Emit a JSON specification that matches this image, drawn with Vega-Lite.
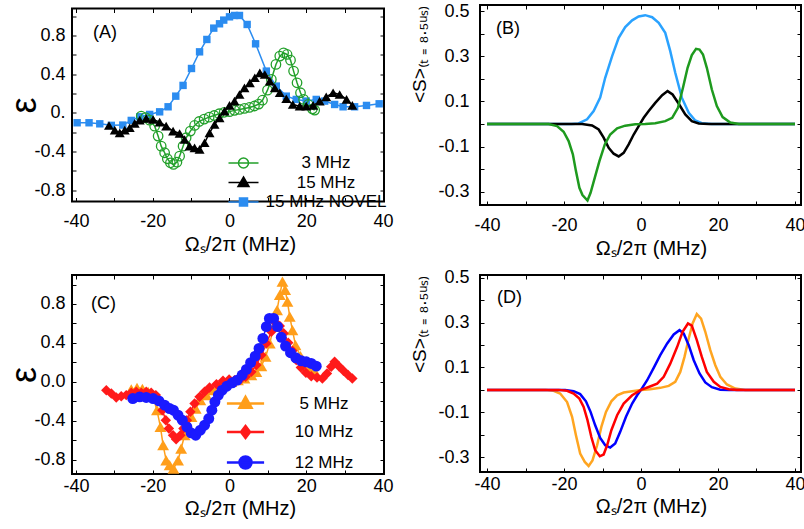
{
"$schema": "https://vega.github.io/schema/vega-lite/v6.json",
"background": "white",
"padding": {"left": 5, "top": 1, "right": 0, "bottom": 0},
"datasets": {
"A": [
{"s":"15 MHz NOVEL","x":-39.7,"y":-0.103},{"s":"15 MHz NOVEL","x":-36.6,"y":-0.103},{"s":"15 MHz NOVEL","x":-33.8,"y":-0.114},{"s":"15 MHz NOVEL","x":-30.8,"y":-0.13},{"s":"15 MHz NOVEL","x":-27.8,"y":-0.127},{"s":"15 MHz NOVEL","x":-25.6,"y":-0.079},{"s":"15 MHz NOVEL","x":-23.4,"y":-0.041},{"s":"15 MHz NOVEL","x":-20.8,"y":-0.017},{"s":"15 MHz NOVEL","x":-18.2,"y":0.01},{"s":"15 MHz NOVEL","x":-16,"y":0.062},{"s":"15 MHz NOVEL","x":-14,"y":0.172},{"s":"15 MHz NOVEL","x":-12.1,"y":0.283},{"s":"15 MHz NOVEL","x":-9.9,"y":0.458},{"s":"15 MHz NOVEL","x":-7.8,"y":0.63},{"s":"15 MHz NOVEL","x":-5.9,"y":0.758},{"s":"15 MHz NOVEL","x":-4.1,"y":0.875},{"s":"15 MHz NOVEL","x":-2.6,"y":0.92},{"s":"15 MHz NOVEL","x":-1.5,"y":0.958},{"s":"15 MHz NOVEL","x":0,"y":0.992},{"s":"15 MHz NOVEL","x":1.3,"y":1.006},{"s":"15 MHz NOVEL","x":2.6,"y":1.006},{"s":"15 MHz NOVEL","x":4.6,"y":0.913},{"s":"15 MHz NOVEL","x":6.8,"y":0.713},{"s":"15 MHz NOVEL","x":9.6,"y":0.431},{"s":"15 MHz NOVEL","x":12.2,"y":0.276},{"s":"15 MHz NOVEL","x":14.8,"y":0.172},{"s":"15 MHz NOVEL","x":17.4,"y":0.138},{"s":"15 MHz NOVEL","x":20,"y":0.121},{"s":"15 MHz NOVEL","x":22.6,"y":0.138},{"s":"15 MHz NOVEL","x":24.8,"y":0.121},{"s":"15 MHz NOVEL","x":27.4,"y":0.086},{"s":"15 MHz NOVEL","x":29.6,"y":0.062},{"s":"15 MHz NOVEL","x":32.6,"y":0.062},{"s":"15 MHz NOVEL","x":35.7,"y":0.076},{"s":"15 MHz NOVEL","x":39,"y":0.093},
{"s":"3 MHz","x":-23,"y":-0.034},{"s":"3 MHz","x":-21.9,"y":-0.05},{"s":"3 MHz","x":-20.8,"y":-0.076},{"s":"3 MHz","x":-19.5,"y":-0.138},{"s":"3 MHz","x":-18.6,"y":-0.241},{"s":"3 MHz","x":-17.8,"y":-0.345},{"s":"3 MHz","x":-16.9,"y":-0.413},{"s":"3 MHz","x":-16.2,"y":-0.475},{"s":"3 MHz","x":-15.4,"y":-0.517},{"s":"3 MHz","x":-14.6,"y":-0.534},{"s":"3 MHz","x":-13.7,"y":-0.51},{"s":"3 MHz","x":-13,"y":-0.448},{"s":"3 MHz","x":-12.1,"y":-0.345},{"s":"3 MHz","x":-11.3,"y":-0.258},{"s":"3 MHz","x":-10.2,"y":-0.189},{"s":"3 MHz","x":-9.1,"y":-0.131},{"s":"3 MHz","x":-7.9,"y":-0.09},{"s":"3 MHz","x":-6.6,"y":-0.065},{"s":"3 MHz","x":-5.3,"y":-0.045},{"s":"3 MHz","x":-4,"y":-0.028},{"s":"3 MHz","x":-2.7,"y":-0.01},{"s":"3 MHz","x":-1.4,"y":0.005},{"s":"3 MHz","x":0,"y":0.012},{"s":"3 MHz","x":1.3,"y":0.025},{"s":"3 MHz","x":2.6,"y":0.035},{"s":"3 MHz","x":3.9,"y":0.045},{"s":"3 MHz","x":5.2,"y":0.055},{"s":"3 MHz","x":6.5,"y":0.07},{"s":"3 MHz","x":7.6,"y":0.09},{"s":"3 MHz","x":8.6,"y":0.13},{"s":"3 MHz","x":9.9,"y":0.234},{"s":"3 MHz","x":10.9,"y":0.345},{"s":"3 MHz","x":12.1,"y":0.5},{"s":"3 MHz","x":13.1,"y":0.586},{"s":"3 MHz","x":14.1,"y":0.62},{"s":"3 MHz","x":15,"y":0.603},{"s":"3 MHz","x":15.9,"y":0.544},{"s":"3 MHz","x":16.7,"y":0.431},{"s":"3 MHz","x":17.6,"y":0.31},{"s":"3 MHz","x":18.5,"y":0.207},{"s":"3 MHz","x":19.3,"y":0.138},{"s":"3 MHz","x":20.5,"y":0.086},{"s":"3 MHz","x":21.6,"y":0.041},{"s":"3 MHz","x":22.2,"y":0.028},
{"s":"15 MHz","x":-31.4,"y":-0.131},{"s":"15 MHz","x":-29.9,"y":-0.179},{"s":"15 MHz","x":-28.6,"y":-0.207},{"s":"15 MHz","x":-27.3,"y":-0.179},{"s":"15 MHz","x":-26,"y":-0.155},{"s":"15 MHz","x":-24.7,"y":-0.11},{"s":"15 MHz","x":-23.4,"y":-0.076},{"s":"15 MHz","x":-21.7,"y":-0.059},{"s":"15 MHz","x":-19.9,"y":-0.069},{"s":"15 MHz","x":-18.2,"y":-0.096},{"s":"15 MHz","x":-16.5,"y":-0.138},{"s":"15 MHz","x":-14.7,"y":-0.189},{"s":"15 MHz","x":-13,"y":-0.214},{"s":"15 MHz","x":-11.7,"y":-0.276},{"s":"15 MHz","x":-10.4,"y":-0.345},{"s":"15 MHz","x":-9.1,"y":-0.362},{"s":"15 MHz","x":-7.8,"y":-0.379},{"s":"15 MHz","x":-6.5,"y":-0.31},{"s":"15 MHz","x":-5.2,"y":-0.207},{"s":"15 MHz","x":-3.9,"y":-0.121},{"s":"15 MHz","x":-2.6,"y":-0.052},{"s":"15 MHz","x":-1.3,"y":0.017},{"s":"15 MHz","x":0,"y":0.076},{"s":"15 MHz","x":1.3,"y":0.121},{"s":"15 MHz","x":2.6,"y":0.189},{"s":"15 MHz","x":3.9,"y":0.258},{"s":"15 MHz","x":5.3,"y":0.31},{"s":"15 MHz","x":6.6,"y":0.362},{"s":"15 MHz","x":7.9,"y":0.413},{"s":"15 MHz","x":9.2,"y":0.396},{"s":"15 MHz","x":10.5,"y":0.327},{"s":"15 MHz","x":11.8,"y":0.258},{"s":"15 MHz","x":13.1,"y":0.207},{"s":"15 MHz","x":14.8,"y":0.145},{"s":"15 MHz","x":16.5,"y":0.086},{"s":"15 MHz","x":18.3,"y":0.069},{"s":"15 MHz","x":20,"y":0.069},{"s":"15 MHz","x":21.8,"y":0.076},{"s":"15 MHz","x":23.5,"y":0.121},{"s":"15 MHz","x":25.2,"y":0.165},{"s":"15 MHz","x":27,"y":0.207},{"s":"15 MHz","x":28.7,"y":0.189},{"s":"15 MHz","x":30.5,"y":0.138},{"s":"15 MHz","x":32,"y":0.076}
],
"B": [
{"s":"15 MHz NOVEL","x":-40,"y":0},{"s":"15 MHz NOVEL","x":-18,"y":0},{"s":"15 MHz NOVEL","x":-16.2,"y":0.003},{"s":"15 MHz NOVEL","x":-14,"y":0.021},{"s":"15 MHz NOVEL","x":-12.3,"y":0.058},{"s":"15 MHz NOVEL","x":-10.6,"y":0.117},{"s":"15 MHz NOVEL","x":-9.3,"y":0.205},{"s":"15 MHz NOVEL","x":-7.5,"y":0.301},{"s":"15 MHz NOVEL","x":-5.8,"y":0.382},{"s":"15 MHz NOVEL","x":-4.1,"y":0.429},{"s":"15 MHz NOVEL","x":-2.3,"y":0.459},{"s":"15 MHz NOVEL","x":-0.6,"y":0.476},{"s":"15 MHz NOVEL","x":1.1,"y":0.482},{"s":"15 MHz NOVEL","x":2.9,"y":0.473},{"s":"15 MHz NOVEL","x":4.6,"y":0.448},{"s":"15 MHz NOVEL","x":6.3,"y":0.404},{"s":"15 MHz NOVEL","x":7.6,"y":0.323},{"s":"15 MHz NOVEL","x":8.9,"y":0.227},{"s":"15 MHz NOVEL","x":10.6,"y":0.117},{"s":"15 MHz NOVEL","x":12.4,"y":0.05},{"s":"15 MHz NOVEL","x":14.1,"y":0.016},{"s":"15 MHz NOVEL","x":15.8,"y":0.004},{"s":"15 MHz NOVEL","x":18.4,"y":0},{"s":"15 MHz NOVEL","x":40,"y":0},
{"s":"15 MHz","x":-40,"y":0},{"s":"15 MHz","x":-15.3,"y":0},{"s":"15 MHz","x":-12.7,"y":-0.006},{"s":"15 MHz","x":-11,"y":-0.024},{"s":"15 MHz","x":-9.7,"y":-0.06},{"s":"15 MHz","x":-8.4,"y":-0.105},{"s":"15 MHz","x":-7.1,"y":-0.131},{"s":"15 MHz","x":-5.8,"y":-0.143},{"s":"15 MHz","x":-4.5,"y":-0.127},{"s":"15 MHz","x":-3.2,"y":-0.09},{"s":"15 MHz","x":-1.9,"y":-0.046},{"s":"15 MHz","x":-0.6,"y":-0.009},{"s":"15 MHz","x":0.7,"y":0.028},{"s":"15 MHz","x":2,"y":0.058},{"s":"15 MHz","x":3.7,"y":0.094},{"s":"15 MHz","x":5.5,"y":0.128},{"s":"15 MHz","x":6.9,"y":0.146},{"s":"15 MHz","x":8.2,"y":0.131},{"s":"15 MHz","x":9.8,"y":0.09},{"s":"15 MHz","x":11.5,"y":0.043},{"s":"15 MHz","x":13.2,"y":0.013},{"s":"15 MHz","x":15,"y":0.003},{"s":"15 MHz","x":17.6,"y":0},{"s":"15 MHz","x":40,"y":0},
{"s":"3 MHz","x":-40,"y":0},{"s":"3 MHz","x":-24,"y":0},{"s":"3 MHz","x":-21.8,"y":-0.009},{"s":"3 MHz","x":-20.1,"y":-0.034},{"s":"3 MHz","x":-18.8,"y":-0.075},{"s":"3 MHz","x":-17.7,"y":-0.134},{"s":"3 MHz","x":-16.9,"y":-0.208},{"s":"3 MHz","x":-16,"y":-0.282},{"s":"3 MHz","x":-15.2,"y":-0.314},{"s":"3 MHz","x":-13.9,"y":-0.338},{"s":"3 MHz","x":-13.1,"y":-0.304},{"s":"3 MHz","x":-12,"y":-0.237},{"s":"3 MHz","x":-10.8,"y":-0.164},{"s":"3 MHz","x":-9.4,"y":-0.09},{"s":"3 MHz","x":-8,"y":-0.046},{"s":"3 MHz","x":-6.2,"y":-0.019},{"s":"3 MHz","x":-4.1,"y":-0.007},{"s":"3 MHz","x":-1.5,"y":-0.001},{"s":"3 MHz","x":1.1,"y":0},{"s":"3 MHz","x":3.7,"y":0.004},{"s":"3 MHz","x":6.3,"y":0.013},{"s":"3 MHz","x":8.1,"y":0.028},{"s":"3 MHz","x":9.6,"y":0.072},{"s":"3 MHz","x":10.9,"y":0.161},{"s":"3 MHz","x":12.1,"y":0.249},{"s":"3 MHz","x":13.2,"y":0.305},{"s":"3 MHz","x":14.3,"y":0.333},{"s":"3 MHz","x":15.2,"y":0.33},{"s":"3 MHz","x":16.1,"y":0.308},{"s":"3 MHz","x":17.1,"y":0.249},{"s":"3 MHz","x":18.4,"y":0.153},{"s":"3 MHz","x":19.7,"y":0.08},{"s":"3 MHz","x":21.2,"y":0.031},{"s":"3 MHz","x":23.2,"y":0.007},{"s":"3 MHz","x":25.4,"y":0},{"s":"3 MHz","x":40,"y":0}
],
"C": [
{"s":"5 MHz","x":-25.6,"y":-0.079},{"s":"5 MHz","x":-24.1,"y":-0.062},{"s":"5 MHz","x":-22.7,"y":-0.072},{"s":"5 MHz","x":-21.2,"y":-0.103},{"s":"5 MHz","x":-19.9,"y":-0.155},{"s":"5 MHz","x":-18.9,"y":-0.292},{"s":"5 MHz","x":-18,"y":-0.464},{"s":"5 MHz","x":-17.3,"y":-0.652},{"s":"5 MHz","x":-16.5,"y":-0.807},{"s":"5 MHz","x":-15.6,"y":-0.858},{"s":"5 MHz","x":-14.6,"y":-0.893},{"s":"5 MHz","x":-13.4,"y":-0.807},{"s":"5 MHz","x":-12.6,"y":-0.687},{"s":"5 MHz","x":-11.7,"y":-0.549},{"s":"5 MHz","x":-10.8,"y":-0.446},{"s":"5 MHz","x":-9.9,"y":-0.361},{"s":"5 MHz","x":-8.8,"y":-0.275},{"s":"5 MHz","x":-7.6,"y":-0.189},{"s":"5 MHz","x":-6,"y":-0.137},{"s":"5 MHz","x":-4.3,"y":-0.086},{"s":"5 MHz","x":-2.6,"y":-0.045},{"s":"5 MHz","x":-1.3,"y":-0.017},{"s":"5 MHz","x":0.5,"y":0},{"s":"5 MHz","x":2.2,"y":0.017},{"s":"5 MHz","x":3.9,"y":0.034},{"s":"5 MHz","x":5.7,"y":0.069},{"s":"5 MHz","x":7,"y":0.103},{"s":"5 MHz","x":8.3,"y":0.161},{"s":"5 MHz","x":9.4,"y":0.258},{"s":"5 MHz","x":10.5,"y":0.395},{"s":"5 MHz","x":11.5,"y":0.567},{"s":"5 MHz","x":12.4,"y":0.738},{"s":"5 MHz","x":13.1,"y":0.893},{"s":"5 MHz","x":13.8,"y":1.03},{"s":"5 MHz","x":14.5,"y":0.944},{"s":"5 MHz","x":15.1,"y":0.824},{"s":"5 MHz","x":15.7,"y":0.67},{"s":"5 MHz","x":16.4,"y":0.532},{"s":"5 MHz","x":17.2,"y":0.378},{"s":"5 MHz","x":18.5,"y":0.264},{"s":"5 MHz","x":19.6,"y":0.189},{"s":"5 MHz","x":20.9,"y":0.127},{"s":"5 MHz","x":22.5,"y":0.086},
{"s":"10 MHz","x":-32.1,"y":-0.086},{"s":"10 MHz","x":-30.8,"y":-0.12},{"s":"10 MHz","x":-29.5,"y":-0.161},{"s":"10 MHz","x":-28.2,"y":-0.148},{"s":"10 MHz","x":-26.9,"y":-0.137},{"s":"10 MHz","x":-25.6,"y":-0.113},{"s":"10 MHz","x":-24.3,"y":-0.103},{"s":"10 MHz","x":-23,"y":-0.113},{"s":"10 MHz","x":-21.7,"y":-0.103},{"s":"10 MHz","x":-20.4,"y":-0.113},{"s":"10 MHz","x":-19.2,"y":-0.137},{"s":"10 MHz","x":-18.4,"y":-0.196},{"s":"10 MHz","x":-17.5,"y":-0.292},{"s":"10 MHz","x":-16.6,"y":-0.395},{"s":"10 MHz","x":-15.8,"y":-0.481},{"s":"10 MHz","x":-14.7,"y":-0.549},{"s":"10 MHz","x":-13.9,"y":-0.591},{"s":"10 MHz","x":-12.8,"y":-0.549},{"s":"10 MHz","x":-12,"y":-0.481},{"s":"10 MHz","x":-11.1,"y":-0.395},{"s":"10 MHz","x":-10.2,"y":-0.309},{"s":"10 MHz","x":-9.1,"y":-0.223},{"s":"10 MHz","x":-7.8,"y":-0.155},{"s":"10 MHz","x":-6.5,"y":-0.103},{"s":"10 MHz","x":-5.2,"y":-0.058},{"s":"10 MHz","x":-3.4,"y":-0.024},{"s":"10 MHz","x":-1.7,"y":0.01},{"s":"10 MHz","x":-0.1,"y":0.024},{"s":"10 MHz","x":1.3,"y":0.017},{"s":"10 MHz","x":2.8,"y":0.024},{"s":"10 MHz","x":4.2,"y":0.052},{"s":"10 MHz","x":5.7,"y":0.103},{"s":"10 MHz","x":7,"y":0.172},{"s":"10 MHz","x":8.3,"y":0.275},{"s":"10 MHz","x":9.6,"y":0.395},{"s":"10 MHz","x":10.9,"y":0.515},{"s":"10 MHz","x":12,"y":0.608},{"s":"10 MHz","x":13.1,"y":0.573},{"s":"10 MHz","x":14.1,"y":0.498},{"s":"10 MHz","x":15.3,"y":0.402},{"s":"10 MHz","x":16.4,"y":0.319},{"s":"10 MHz","x":17.4,"y":0.223},{"s":"10 MHz","x":18.6,"y":0.148},{"s":"10 MHz","x":19.9,"y":0.093},{"s":"10 MHz","x":21.3,"y":0.058},{"s":"10 MHz","x":22.8,"y":0.045},{"s":"10 MHz","x":24.2,"y":0.034},{"s":"10 MHz","x":25.4,"y":0.086},{"s":"10 MHz","x":26.5,"y":0.155},{"s":"10 MHz","x":27.4,"y":0.206},{"s":"10 MHz","x":28.5,"y":0.161},{"s":"10 MHz","x":29.7,"y":0.113},{"s":"10 MHz","x":30.9,"y":0.069},{"s":"10 MHz","x":32,"y":0.034},
{"s":"12 MHz","x":-25.2,"y":-0.172},{"s":"12 MHz","x":-23.4,"y":-0.155},{"s":"12 MHz","x":-21.7,"y":-0.161},{"s":"12 MHz","x":-19.9,"y":-0.172},{"s":"12 MHz","x":-18.4,"y":-0.196},{"s":"12 MHz","x":-16.9,"y":-0.24},{"s":"12 MHz","x":-15.6,"y":-0.275},{"s":"12 MHz","x":-14.6,"y":-0.292},{"s":"12 MHz","x":-13.4,"y":-0.343},{"s":"12 MHz","x":-12.3,"y":-0.395},{"s":"12 MHz","x":-11.1,"y":-0.464},{"s":"12 MHz","x":-10,"y":-0.525},{"s":"12 MHz","x":-8.8,"y":-0.549},{"s":"12 MHz","x":-7.6,"y":-0.498},{"s":"12 MHz","x":-6.5,"y":-0.446},{"s":"12 MHz","x":-5.4,"y":-0.378},{"s":"12 MHz","x":-4.6,"y":-0.292},{"s":"12 MHz","x":-3.8,"y":-0.206},{"s":"12 MHz","x":-2.9,"y":-0.137},{"s":"12 MHz","x":-1.9,"y":-0.086},{"s":"12 MHz","x":-0.7,"y":-0.045},{"s":"12 MHz","x":0.7,"y":-0.01},{"s":"12 MHz","x":2,"y":0.017},{"s":"12 MHz","x":3.3,"y":0.069},{"s":"12 MHz","x":4.4,"y":0.127},{"s":"12 MHz","x":5.5,"y":0.196},{"s":"12 MHz","x":6.7,"y":0.264},{"s":"12 MHz","x":7.7,"y":0.343},{"s":"12 MHz","x":8.7,"y":0.446},{"s":"12 MHz","x":9.6,"y":0.567},{"s":"12 MHz","x":10.4,"y":0.652},{"s":"12 MHz","x":11.5,"y":0.652},{"s":"12 MHz","x":12.5,"y":0.567},{"s":"12 MHz","x":13.5,"y":0.457},{"s":"12 MHz","x":14.6,"y":0.367},{"s":"12 MHz","x":15.9,"y":0.299},{"s":"12 MHz","x":17.3,"y":0.247},{"s":"12 MHz","x":18.7,"y":0.216},{"s":"12 MHz","x":20,"y":0.206},{"s":"12 MHz","x":21.3,"y":0.189},{"s":"12 MHz","x":22.6,"y":0.161}
],
"D": [
{"s":"5 MHz","x":-40,"y":0},{"s":"5 MHz","x":-24.8,"y":0},{"s":"5 MHz","x":-22.7,"y":-0.004},{"s":"5 MHz","x":-21,"y":-0.016},{"s":"5 MHz","x":-19.2,"y":-0.054},{"s":"5 MHz","x":-17.9,"y":-0.12},{"s":"5 MHz","x":-16.9,"y":-0.202},{"s":"5 MHz","x":-15.8,"y":-0.284},{"s":"5 MHz","x":-14.6,"y":-0.321},{"s":"5 MHz","x":-13.6,"y":-0.339},{"s":"5 MHz","x":-12.6,"y":-0.314},{"s":"5 MHz","x":-11.4,"y":-0.247},{"s":"5 MHz","x":-10.3,"y":-0.165},{"s":"5 MHz","x":-9.1,"y":-0.098},{"s":"5 MHz","x":-7.7,"y":-0.051},{"s":"5 MHz","x":-6.2,"y":-0.024},{"s":"5 MHz","x":-4.5,"y":-0.012},{"s":"5 MHz","x":-2.3,"y":-0.006},{"s":"5 MHz","x":0,"y":0},{"s":"5 MHz","x":2.4,"y":0.003},{"s":"5 MHz","x":5,"y":0.009},{"s":"5 MHz","x":7.2,"y":0.018},{"s":"5 MHz","x":8.9,"y":0.036},{"s":"5 MHz","x":10.2,"y":0.08},{"s":"5 MHz","x":11.3,"y":0.147},{"s":"5 MHz","x":12.4,"y":0.229},{"s":"5 MHz","x":13.4,"y":0.296},{"s":"5 MHz","x":14.5,"y":0.338},{"s":"5 MHz","x":15.6,"y":0.318},{"s":"5 MHz","x":16.7,"y":0.259},{"s":"5 MHz","x":18,"y":0.177},{"s":"5 MHz","x":19.3,"y":0.11},{"s":"5 MHz","x":20.6,"y":0.058},{"s":"5 MHz","x":22.3,"y":0.024},{"s":"5 MHz","x":24.5,"y":0.006},{"s":"5 MHz","x":27.1,"y":0},{"s":"5 MHz","x":40,"y":0},
{"s":"12 MHz","x":-40,"y":0},{"s":"12 MHz","x":-19.7,"y":0},{"s":"12 MHz","x":-17.5,"y":-0.006},{"s":"12 MHz","x":-15.8,"y":-0.019},{"s":"12 MHz","x":-14.3,"y":-0.051},{"s":"12 MHz","x":-13.1,"y":-0.098},{"s":"12 MHz","x":-11.9,"y":-0.158},{"s":"12 MHz","x":-10.6,"y":-0.214},{"s":"12 MHz","x":-9.3,"y":-0.247},{"s":"12 MHz","x":-8,"y":-0.257},{"s":"12 MHz","x":-6.7,"y":-0.239},{"s":"12 MHz","x":-5.4,"y":-0.187},{"s":"12 MHz","x":-3.9,"y":-0.12},{"s":"12 MHz","x":-2.3,"y":-0.061},{"s":"12 MHz","x":-1,"y":-0.024},{"s":"12 MHz","x":0,"y":0},{"s":"12 MHz","x":1.6,"y":0.043},{"s":"12 MHz","x":3.3,"y":0.098},{"s":"12 MHz","x":5,"y":0.155},{"s":"12 MHz","x":6.8,"y":0.207},{"s":"12 MHz","x":8.5,"y":0.247},{"s":"12 MHz","x":10,"y":0.266},{"s":"12 MHz","x":11.1,"y":0.251},{"s":"12 MHz","x":12.4,"y":0.199},{"s":"12 MHz","x":13.7,"y":0.132},{"s":"12 MHz","x":15.2,"y":0.073},{"s":"12 MHz","x":16.7,"y":0.033},{"s":"12 MHz","x":18.4,"y":0.012},{"s":"12 MHz","x":20.6,"y":0.001},{"s":"12 MHz","x":22.8,"y":0},{"s":"12 MHz","x":40,"y":0},
{"s":"10 MHz","x":-40,"y":0},{"s":"10 MHz","x":-21.4,"y":0},{"s":"10 MHz","x":-19.2,"y":-0.004},{"s":"10 MHz","x":-17.5,"y":-0.016},{"s":"10 MHz","x":-16,"y":-0.039},{"s":"10 MHz","x":-14.9,"y":-0.076},{"s":"10 MHz","x":-13.9,"y":-0.135},{"s":"10 MHz","x":-12.9,"y":-0.21},{"s":"10 MHz","x":-11.9,"y":-0.269},{"s":"10 MHz","x":-10.7,"y":-0.296},{"s":"10 MHz","x":-9.7,"y":-0.288},{"s":"10 MHz","x":-8.8,"y":-0.247},{"s":"10 MHz","x":-7.7,"y":-0.18},{"s":"10 MHz","x":-6.2,"y":-0.113},{"s":"10 MHz","x":-4.5,"y":-0.061},{"s":"10 MHz","x":-2.3,"y":-0.024},{"s":"10 MHz","x":0,"y":0},{"s":"10 MHz","x":2,"y":0.013},{"s":"10 MHz","x":4.2,"y":0.028},{"s":"10 MHz","x":5.9,"y":0.058},{"s":"10 MHz","x":7.6,"y":0.117},{"s":"10 MHz","x":9.4,"y":0.192},{"s":"10 MHz","x":10.8,"y":0.259},{"s":"10 MHz","x":12.2,"y":0.296},{"s":"10 MHz","x":13.2,"y":0.286},{"s":"10 MHz","x":14.5,"y":0.222},{"s":"10 MHz","x":15.8,"y":0.147},{"s":"10 MHz","x":17.1,"y":0.08},{"s":"10 MHz","x":18.9,"y":0.036},{"s":"10 MHz","x":20.6,"y":0.013},{"s":"10 MHz","x":22.8,"y":0.003},{"s":"10 MHz","x":24.9,"y":0},{"s":"10 MHz","x":40,"y":0}
]
},
"columns": 2,
"spacing": {"row": 70, "column": 96},
"bounds": "flush",
"align": "each",
"center": true,
"resolve": {"scale": {"color": "independent", "shape": "independent", "fill": "independent", "stroke": "independent"}},
"concat": [
{
"width": 312, "height": 193,
"title": {"text": "(A)", "dx": 21, "dy": 39},
"layer": [
{"mark": {"type": "rule", "color": "black", "strokeWidth": 1},
 "encoding": {"x": {"datum": 0, "type": "quantitative", "scale": {"domain": [-41.04, 40.26], "nice": false, "zero": false},
   "axis": {"orient": "top", "values": [-40,-30,-20,-10,0,10,20,30,40], "labels": false, "title": null}}}},
{"mark": {"type": "rule", "color": "#333333", "strokeWidth": 1},
 "encoding": {"y": {"datum": 0, "type": "quantitative", "scale": {"domain": [-0.917, 1.078], "nice": false, "zero": false},
   "axis": {"orient": "right", "values": [-0.8,-0.6,-0.4,-0.2,0,0.2,0.4,0.6,0.8,1.0], "labels": false, "title": null}}}},
{"data": {"name": "A"}, "transform": [{"filter": "datum.s == '15 MHz NOVEL'"}], "mark": {"type": "line", "strokeWidth": 1.5, "color": "#2b8cf0"},
 "encoding": {
  "x": {"field": "x", "type": "quantitative", "scale": {"domain": [-41.04, 40.26], "nice": false, "zero": false},
   "axis": {"orient": "bottom", "values": [-40,-30,-20,-10,0,10,20,30,40], "labelExpr": "datum.value % 20 == 0 ? '' + datum.value : ''", "labelPadding": 15, "title": "Ωₛ/2π (MHz)", "titleFontSize": 20, "titlePadding": 4, "titleX": 168}},
  "y": {"field": "y", "type": "quantitative", "scale": {"domain": [-0.917, 1.078], "nice": false, "zero": false},
   "axis": {"orient": "left", "values": [-0.8,-0.6,-0.4,-0.2,0,0.2,0.4,0.6,0.8,1.0], "labelExpr": "datum.value == 0 ? '0.' : (indexof(['-0.8','-0.4','0.4','0.8'], '' + datum.value) >= 0 ? '' + datum.value : '')", "labelPadding": 11, "title": "ε", "titleFontSize": 36, "titlePadding": -10}}}},
{"data": {"name": "A"}, "transform": [{"filter": "datum.s == '3 MHz'"}], "mark": {"type": "line", "strokeWidth": 1.5, "color": "#22a02a"},
 "encoding": {"x": {"field": "x", "type": "quantitative", "axis": null}, "y": {"field": "y", "type": "quantitative", "axis": null}}},
{"data": {"name": "A"}, "transform": [{"filter": "datum.s == '15 MHz'"}], "mark": {"type": "line", "strokeWidth": 1.5, "color": "black"},
 "encoding": {"x": {"field": "x", "type": "quantitative", "axis": null}, "y": {"field": "y", "type": "quantitative", "axis": null}}},
{"data": {"name": "A"}, "transform": [{"filter": "datum.s == '15 MHz NOVEL'"}],
 "mark": {"type": "point", "shape": "square", "filled": true, "fill": "#2b8cf0", "size": 55, "opacity": 1},
 "encoding": {"x": {"field": "x", "type": "quantitative", "axis": null}, "y": {"field": "y", "type": "quantitative", "axis": null}}},
{"data": {"name": "A"}, "transform": [{"filter": "datum.s == '3 MHz'"}],
 "mark": {"type": "point", "shape": "circle", "filled": false, "stroke": "#22a02a", "strokeWidth": 1.3, "size": 90, "opacity": 1},
 "encoding": {"x": {"field": "x", "type": "quantitative", "axis": null}, "y": {"field": "y", "type": "quantitative", "axis": null}}},
{"data": {"name": "A"}, "transform": [{"filter": "datum.s == '15 MHz'"}],
 "mark": {"type": "point", "shape": "triangle-up", "filled": true, "fill": "black", "size": 100, "opacity": 1},
 "encoding": {"x": {"field": "x", "type": "quantitative", "axis": null}, "y": {"field": "y", "type": "quantitative", "axis": null}}},
{"data": {"name": "A"},
 "mark": {"type": "point", "opacity": 0, "strokeWidth": 1.5},
 "encoding": {
  "x": {"field": "x", "type": "quantitative", "axis": null}, "y": {"field": "y", "type": "quantitative", "axis": null},
  "shape": {"field": "s", "type": "nominal", "scale": {"domain": ["3 MHz", "15 MHz", "15 MHz NOVEL"], "range": ["M-3,0H3M-1,0A1,1 0 1,0 1,0A1,1 0 1,0 -1,0Z", "M-3,0H3M0,-1.1L1.1,0.8H-1.1Z", "M-3,0H3M-0.8,-0.8H0.8V0.8H-0.8Z"]},
   "legend": {"title": null, "orient": "none", "legendX": 163, "legendY": 146, "symbolSize": 100, "symbolStrokeWidth": 1.5, "symbolOpacity": 1, "labelAlign": "center", "labelOffset": 74, "rowPadding": 1.5, "padding": 0}},
  "fill": {"field": "s", "type": "nominal", "scale": {"domain": ["3 MHz", "15 MHz", "15 MHz NOVEL"], "range": ["white", "black", "#2b8cf0"]},
   "legend": {"title": null, "orient": "none", "legendX": 163, "legendY": 146, "symbolSize": 100, "symbolStrokeWidth": 1.5, "symbolOpacity": 1, "labelAlign": "center", "labelOffset": 74, "rowPadding": 1.5, "padding": 0}},
  "stroke": {"field": "s", "type": "nominal", "scale": {"domain": ["3 MHz", "15 MHz", "15 MHz NOVEL"], "range": ["#22a02a", "black", "#2b8cf0"]},
   "legend": {"title": null, "orient": "none", "legendX": 163, "legendY": 146, "symbolSize": 100, "symbolStrokeWidth": 1.5, "symbolOpacity": 1, "labelAlign": "center", "labelOffset": 74, "rowPadding": 1.5, "padding": 0}}}}
],
"resolve": {"axis": {"x": "independent", "y": "independent"}}
},
{
"width": 321, "height": 200,
"title": {"text": "(B)", "dx": 16, "dy": 40},
"layer": [
{"mark": {"type": "rule", "color": "black", "strokeWidth": 1},
 "encoding": {"x": {"datum": 0, "type": "quantitative", "scale": {"domain": [-41.82, 41.56], "nice": false, "zero": false},
   "axis": {"orient": "top", "values": [-40,-30,-20,-10,0,10,20,30,40], "labels": false, "title": null}}}},
{"mark": {"type": "rule", "color": "black", "strokeWidth": 1},
 "encoding": {"y": {"datum": 0, "type": "quantitative", "scale": {"domain": [-0.358, 0.527], "nice": false, "zero": false},
   "axis": {"orient": "right", "values": [-0.3,-0.2,-0.1,0,0.1,0.2,0.3,0.4,0.5], "labels": false, "title": null}}}},
{"data": {"name": "B"}, "mark": {"type": "line", "strokeWidth": 2.5},
 "encoding": {
  "x": {"field": "x", "type": "quantitative", "scale": {"domain": [-41.82, 41.56], "nice": false, "zero": false},
   "axis": {"orient": "bottom", "values": [-40,-30,-20,-10,0,10,20,30,40], "labelExpr": "datum.value % 20 == 0 ? '' + datum.value : ''", "labelPadding": 15, "title": "Ωₛ/2π (MHz)", "titleFontSize": 20, "titlePadding": 4, "titleX": 171}},
  "y": {"field": "y", "type": "quantitative", "scale": {"domain": [-0.358, 0.527], "nice": false, "zero": false},
   "axis": {"orient": "left", "values": [-0.3,-0.2,-0.1,0,0.1,0.2,0.3,0.4,0.5], "labelExpr": "indexof(['-0.3','-0.1','0.1','0.3','0.5'], '' + datum.value) >= 0 ? '' + datum.value : ''", "labelPadding": 15, "title": "<S>₍ₜ ₌ ₈.₅ᵤₛ₎", "titleFontSize": 19, "titleAnchor": "end", "titlePadding": 8}},
  "color": {"field": "s", "type": "nominal", "scale": {"domain": ["3 MHz", "15 MHz", "15 MHz NOVEL"], "range": ["#1e9a1e", "black", "#2aa2ff"]}, "legend": null}}}
],
"resolve": {"axis": {"x": "independent", "y": "independent"}}
},
{
"width": 312, "height": 199,
"title": {"text": "(C)", "dx": 19, "dy": 42},
"layer": [
{"mark": {"type": "rule", "color": "black", "strokeWidth": 1},
 "encoding": {"x": {"datum": 0, "type": "quantitative", "scale": {"domain": [-41.04, 40.26], "nice": false, "zero": false},
   "axis": {"orient": "top", "values": [-40,-30,-20,-10,0,10,20,30,40], "labels": false, "title": null}}}},
{"mark": {"type": "rule", "color": "#777777", "strokeWidth": 1},
 "encoding": {"y": {"datum": 0, "type": "quantitative", "scale": {"domain": [-0.948, 1.098], "nice": false, "zero": false},
   "axis": {"orient": "right", "values": [-0.8,-0.6,-0.4,-0.2,0,0.2,0.4,0.6,0.8,1.0], "labels": false, "title": null}}}},
{"data": {"name": "C"}, "transform": [{"filter": "datum.s == '5 MHz'"}], "mark": {"type": "line", "strokeWidth": 1.5, "color": "#ff9e1a"},
 "encoding": {
  "x": {"field": "x", "type": "quantitative", "scale": {"domain": [-41.04, 40.26], "nice": false, "zero": false},
   "axis": {"orient": "bottom", "values": [-40,-30,-20,-10,0,10,20,30,40], "labelExpr": "datum.value % 20 == 0 ? '' + datum.value : ''", "labelPadding": 7, "title": "Ωₛ/2π (MHz)", "titleFontSize": 20, "titlePadding": 3, "titleX": 168}},
  "y": {"field": "y", "type": "quantitative", "scale": {"domain": [-0.948, 1.098], "nice": false, "zero": false},
   "axis": {"orient": "left", "values": [-0.8,-0.6,-0.4,-0.2,0,0.2,0.4,0.6,0.8,1.0], "labelExpr": "datum.value == 0 ? '0.0' : (indexof(['-0.8','-0.4','0.4','0.8'], '' + datum.value) >= 0 ? '' + datum.value : '')", "labelPadding": 11, "title": "ε", "titleFontSize": 36, "titlePadding": -10}}}},
{"data": {"name": "C"}, "transform": [{"filter": "datum.s == '10 MHz'"}], "mark": {"type": "line", "strokeWidth": 1.5, "color": "#ff1a1a"},
 "encoding": {"x": {"field": "x", "type": "quantitative", "axis": null}, "y": {"field": "y", "type": "quantitative", "axis": null}}},
{"data": {"name": "C"}, "transform": [{"filter": "datum.s == '12 MHz'"}], "mark": {"type": "line", "strokeWidth": 1.5, "color": "#1a1aff"},
 "encoding": {"x": {"field": "x", "type": "quantitative", "axis": null}, "y": {"field": "y", "type": "quantitative", "axis": null}}},
{"data": {"name": "C"}, "transform": [{"filter": "datum.s == '5 MHz'"}],
 "mark": {"type": "point", "shape": "triangle-up", "filled": true, "fill": "#ff9e1a", "size": 140, "opacity": 1},
 "encoding": {"x": {"field": "x", "type": "quantitative", "axis": null}, "y": {"field": "y", "type": "quantitative", "axis": null}}},
{"data": {"name": "C"}, "transform": [{"filter": "datum.s == '10 MHz'"}],
 "mark": {"type": "point", "shape": "diamond", "filled": true, "fill": "#ff1a1a", "size": 110, "opacity": 1},
 "encoding": {"x": {"field": "x", "type": "quantitative", "axis": null}, "y": {"field": "y", "type": "quantitative", "axis": null}}},
{"data": {"name": "C"}, "transform": [{"filter": "datum.s == '12 MHz'"}],
 "mark": {"type": "point", "shape": "circle", "filled": true, "fill": "#1a1aff", "size": 120, "opacity": 1},
 "encoding": {"x": {"field": "x", "type": "quantitative", "axis": null}, "y": {"field": "y", "type": "quantitative", "axis": null}}},
{"data": {"name": "C"},
 "mark": {"type": "point", "opacity": 0, "strokeWidth": 2.5},
 "encoding": {
  "x": {"field": "x", "type": "quantitative", "axis": null}, "y": {"field": "y", "type": "quantitative", "axis": null},
  "shape": {"field": "s", "type": "nominal", "scale": {"domain": ["5 MHz", "10 MHz", "12 MHz"], "range": ["M-3.1,0H3.1M0,-1.1L1,0.7H-1Z", "M-3.1,0H3.1M0,-1L0.75,0L0,1L-0.75,0Z", "M-3.1,0H3.1M-1,0A1,1 0 1,0 1,0A1,1 0 1,0 -1,0Z"]},
   "legend": {"title": null, "orient": "none", "legendX": 165, "legendY": 120, "symbolSize": 144, "symbolStrokeWidth": 2.5, "symbolOpacity": 1, "labelAlign": "center", "labelOffset": 70, "rowPadding": 7.5, "padding": 0}},
  "fill": {"field": "s", "type": "nominal", "scale": {"domain": ["5 MHz", "10 MHz", "12 MHz"], "range": ["#ff9e1a", "#ff1a1a", "#1a1aff"]},
   "legend": {"title": null, "orient": "none", "legendX": 165, "legendY": 120, "symbolSize": 144, "symbolStrokeWidth": 2.5, "symbolOpacity": 1, "labelAlign": "center", "labelOffset": 70, "rowPadding": 7.5, "padding": 0}},
  "stroke": {"field": "s", "type": "nominal", "scale": {"domain": ["5 MHz", "10 MHz", "12 MHz"], "range": ["#ff9e1a", "#ff1a1a", "#1a1aff"]},
   "legend": {"title": null, "orient": "none", "legendX": 165, "legendY": 120, "symbolSize": 144, "symbolStrokeWidth": 2.5, "symbolOpacity": 1, "labelAlign": "center", "labelOffset": 70, "rowPadding": 7.5, "padding": 0}}}}
],
"resolve": {"axis": {"x": "independent", "y": "independent"}}
},
{
"width": 321, "height": 197,
"title": {"text": "(D)", "dx": 17, "dy": 42},
"layer": [
{"mark": {"type": "rule", "color": "#888888", "strokeWidth": 1},
 "encoding": {"x": {"datum": 0, "type": "quantitative", "scale": {"domain": [-41.82, 41.56], "nice": false, "zero": false},
   "axis": {"orient": "top", "values": [-40,-30,-20,-10,0,10,20,30,40], "labels": false, "title": null}}}},
{"mark": {"type": "rule", "color": "black", "strokeWidth": 1},
 "encoding": {"y": {"datum": 0, "type": "quantitative", "scale": {"domain": [-0.366, 0.512], "nice": false, "zero": false},
   "axis": {"orient": "right", "values": [-0.3,-0.2,-0.1,0,0.1,0.2,0.3,0.4,0.5], "labels": false, "title": null}}}},
{"data": {"name": "D"}, "mark": {"type": "line", "strokeWidth": 2.5},
 "encoding": {
  "x": {"field": "x", "type": "quantitative", "scale": {"domain": [-41.82, 41.56], "nice": false, "zero": false},
   "axis": {"orient": "bottom", "values": [-40,-30,-20,-10,0,10,20,30,40], "labelExpr": "datum.value % 20 == 0 ? '' + datum.value : ''", "labelPadding": 7, "title": "Ωₛ/2π (MHz)", "titleFontSize": 20, "titlePadding": 3, "titleX": 171}},
  "y": {"field": "y", "type": "quantitative", "scale": {"domain": [-0.366, 0.512], "nice": false, "zero": false},
   "axis": {"orient": "left", "values": [-0.3,-0.2,-0.1,0,0.1,0.2,0.3,0.4,0.5], "labelExpr": "indexof(['-0.3','-0.1','0.1','0.3','0.5'], '' + datum.value) >= 0 ? '' + datum.value : ''", "labelPadding": 15, "title": "<S>₍ₜ ₌ ₈.₅ᵤₛ₎", "titleFontSize": 19, "titleAnchor": "end", "titlePadding": 8}},
  "color": {"field": "s", "type": "nominal", "scale": {"domain": ["5 MHz", "12 MHz", "10 MHz"], "range": ["#ffa520", "#0000ff", "#ff0000"]}, "legend": null}}}
],
"resolve": {"axis": {"x": "independent", "y": "independent"}}
}
],
"config": {
 "font": "Liberation Sans",
 "view": {"stroke": "black", "strokeWidth": 2},
 "axis": {"grid": false, "domain": false, "tickColor": "black", "tickSize": -4, "tickWidth": 1, "labelFont": "Liberation Sans", "labelFontSize": 18, "labelColor": "black", "labelFlush": false, "labelOverlap": false, "titleFont": "Liberation Sans", "titleFontWeight": "normal", "titleColor": "black"},
 "legend": {"labelFont": "Liberation Sans", "labelFontSize": 17, "labelColor": "black", "padding": 0},
 "title": {"font": "Liberation Sans", "fontSize": 18, "fontWeight": "normal", "color": "black", "anchor": "start", "frame": "group", "offset": 0, "baseline": "top"}
}
}
